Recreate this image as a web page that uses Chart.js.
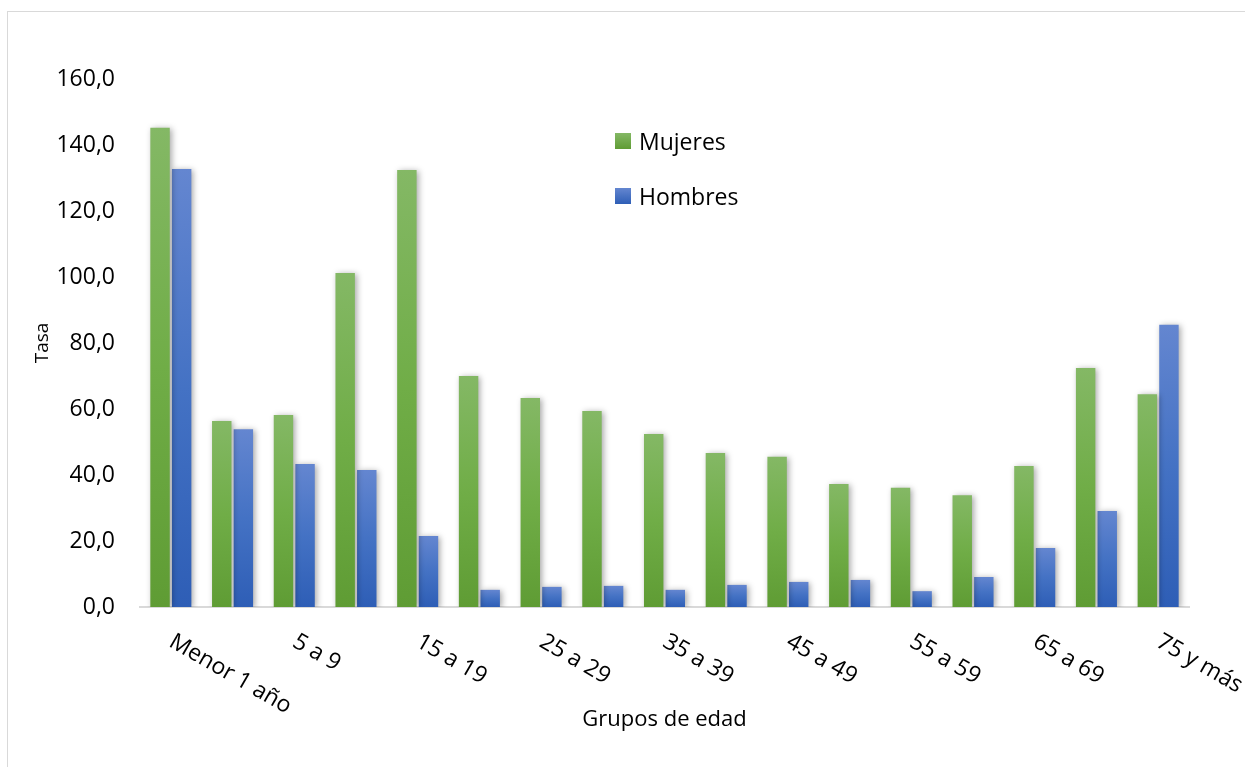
<!DOCTYPE html>
<html lang="es">
<head>
<meta charset="utf-8">
<title>Tasa por grupos de edad</title>
<script src="https://cdn.jsdelivr.net/npm/chart.js@4.4.1/dist/chart.umd.min.js"></script>
<style>
  html, body { margin: 0; padding: 0; background: #fff; overflow: hidden; }
  #frame { position: absolute; left: 7px; top: 11px; width: 1260px; height: 780px; border: 1px solid #d9d9d9; box-sizing: border-box; }
  #wrap { position: absolute; left: 0; top: 0; width: 1245px; height: 767px; }
  .leg { position: absolute; left: 615px; font: 23px "Open Sans", sans-serif; color: #000; line-height: 16px; white-space: nowrap; }
  .leg span.box { display: inline-block; width: 16px; height: 16px; vertical-align: top; margin-right: 8px; }
</style>
</head>
<body>
<div id="frame"></div>
<div id="wrap"><canvas id="grafico" width="1245" height="767"></canvas></div>
<div id="legend"></div>
<script>
// datos
const categorias = ['Menor 1 año', '1 a 4', '5 a 9', '10 a 14', '15 a 19', '20 a 24', '25 a 29', '30 a 34',
  '35 a 39', '40 a 44', '45 a 49', '50 a 54', '55 a 59', '60 a 64', '65 a 69', '70 a 74', '75 y más'];
const mujeres = [145.2, 56.4, 58.2, 101.2, 132.4, 70.0, 63.3, 59.4, 52.4, 46.7, 45.5, 37.3, 36.1, 33.9, 42.7, 72.4, 64.5];
const hombres = [132.7, 53.9, 43.3, 41.5, 21.5, 5.2, 6.1, 6.4, 5.2, 6.7, 7.6, 8.2, 4.8, 9.1, 17.9, 29.1, 85.5];
const nombresSeries = ['Mujeres', 'Hombres'];

// colores (claro arriba, medio, oscuro abajo)
const verde = ['#84b865', '#70ad47', '#5f9c34'];
const azul = ['#6486d0', '#4472c4', '#2e5eb6'];

function degradado(ctx, cols) {
    const chart = ctx.chart;
    const y = chart.scales.y;
    if (!chart.chartArea || !y || ctx.type !== 'data') return cols[1];
    const top = y.getPixelForValue(ctx.raw);
    const bottom = y.getPixelForValue(0);
    if (!isFinite(top) || bottom - top < 1) return cols[1];
    const g = chart.ctx.createLinearGradient(0, top, 0, bottom);
    g.addColorStop(0, cols[0]);
    g.addColorStop(0.5, cols[1]);
    g.addColorStop(1, cols[2]);
    return g;
}

// sombra de las barras
const sombraBarras = {
    id: 'sombraBarras',
    beforeDatasetsDraw(chart) {
        const c = chart.ctx;
        c.save();
        c.shadowColor = 'rgba(0,0,0,0.35)';
        c.shadowBlur = 6;
        c.shadowOffsetX = 2;
        c.shadowOffsetY = 1;
    },
    afterDatasetsDraw(chart) {
        chart.ctx.restore();
    }
};

// etiquetas del eje X giradas hacia abajo (una sí, una no)
const etiquetasX = {
    id: 'etiquetasX',
    afterDraw(chart) {
        const x = chart.scales.x;
        const c = chart.ctx;
        c.save();
        c.font = '23px "Open Sans"';
        c.fillStyle = '#000';
        c.textAlign = 'left';
        c.textBaseline = 'top';
        categorias.forEach((lab, i) => {
            if (i % 2) return;
            const px = x.getPixelForValue(i);
            c.save();
            c.translate(px + 6, x.top + 23);
            c.rotate(30 * Math.PI / 180);
            c.fillText(lab, 0, 0);
            c.restore();
        });
        c.restore();
    }
};

function dibujar() {
    const canvas = document.getElementById('grafico');
    new Chart(canvas, {
        type: 'bar',
        data: {
            labels: categorias,
            datasets: [{
                label: nombresSeries[0],
                data: mujeres,
                backgroundColor: (ctx) => degradado(ctx, verde),
                categoryPercentage: 0.7,
                barPercentage: 0.9
            }, {
                label: nombresSeries[1],
                data: hombres,
                backgroundColor: (ctx) => degradado(ctx, azul),
                categoryPercentage: 0.7,
                barPercentage: 0.9
            }]
        },
        options: {
            responsive: false,
            animation: false,
            devicePixelRatio: 1,
            layout: { padding: { left: 0, top: 79, right: 56, bottom: 0 } },
            plugins: {
                legend: { display: false },
                tooltip: { enabled: false }
            },
            scales: {
                x: {
                    grid: { display: false, drawTicks: false },
                    border: { display: true, color: '#d9d9d9', width: 2 },
                    ticks: { display: false },
                    title: {
                        display: true,
                        text: 'Grupos de edad',
                        color: '#000',
                        font: { family: 'Open Sans', size: 22 },
                        padding: { top: 0, bottom: 34 }
                    },
                    afterFit(scale) { scale.height = 160; }
                },
                y: {
                    min: 0,
                    max: 160,
                    grid: { display: false, drawTicks: false },
                    border: { display: false },
                    ticks: {
                        stepSize: 20,
                        padding: 25,
                        color: '#000',
                        font: { family: 'Open Sans', size: 23 },
                        callback: (v) => v.toFixed(1).replace('.', ',')
                    },
                    title: {
                        display: true,
                        text: 'Tasa',
                        color: '#000',
                        font: { family: 'Open Sans', size: 19 },
                        padding: { top: 31, bottom: 0 }
                    },
                    afterFit(scale) { scale.width = 140; }
                }
            }
        },
        plugins: [sombraBarras, etiquetasX]
    });

    // leyenda dentro del área del gráfico
    const leg = document.getElementById('legend');
    const cols = [verde, azul];
    const tops = [133, 188];
    nombresSeries.forEach((n, i) => {
        const d = document.createElement('div');
        d.className = 'leg';
        d.style.top = tops[i] + 'px';
        d.innerHTML = '<span class="box" style="background:linear-gradient(' + cols[i][0] + ',' + cols[i][2] + ')"></span>' + n;
        leg.appendChild(d);
    });
}

document.fonts.load('23px "Open Sans"').then(dibujar, dibujar);
</script>
</body>
</html>
